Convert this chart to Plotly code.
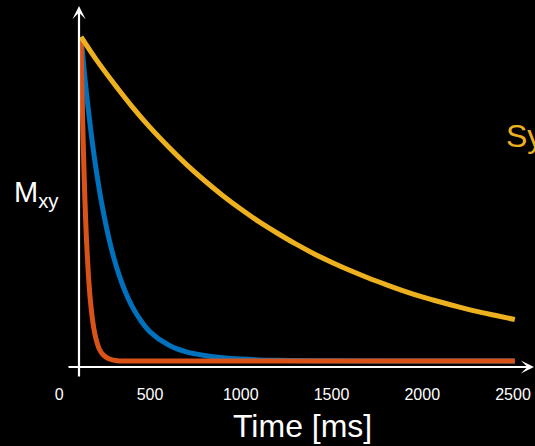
import plotly.graph_objects as go

# Decay curves (time in ms on the labelled axis,
# normalised transverse magnetisation)
t_orange = [120, 125, 130, 135, 140, 145, 150, 160, 170, 180, 190, 200, 220, 240,
            270, 320, 420, 2510]
m_orange = [1.000, 0.850, 0.722, 0.613, 0.521, 0.443, 0.376, 0.272, 0.196, 0.142,
            0.102, 0.074, 0.038, 0.020, 0.008, 0.001, 0.000, 0.000]

t_blue = [120, 140, 160, 180, 200, 220, 240, 270, 300, 330, 360, 400, 450, 500,
          600, 700, 800, 900, 1000, 1200, 1500, 2000, 2510]
m_blue = [1.000, 0.881, 0.776, 0.684, 0.603, 0.531, 0.468, 0.387, 0.320, 0.265,
          0.219, 0.170, 0.124, 0.090, 0.050, 0.028, 0.017, 0.010, 0.006, 0.002,
          0.001, 0.000, 0.000]

t_yellow = [120, 200, 300, 400, 500, 600, 700, 800, 900, 1000, 1100, 1200, 1300,
            1400, 1500, 1600, 1700, 1800, 1900, 2000, 2100, 2200, 2300, 2400, 2510]
m_yellow = [1.000, 0.933, 0.857, 0.786, 0.721, 0.662, 0.607, 0.557, 0.511, 0.469,
            0.430, 0.395, 0.362, 0.332, 0.305, 0.280, 0.257, 0.236, 0.216, 0.198,
            0.182, 0.167, 0.153, 0.141, 0.128]

tick_vals = [0, 500, 1000, 1500, 2000, 2500]
tick_text = ["0", "500", "1000", "1500", "2000", "2500"]

x_title = "Time [ms]"
y_title = "M<sub>xy</sub>"
curve_label = "Synovial fluid"

BLUE = "#0072BD"
ORANGE = "#D95319"
YELLOW = "#EDB120"
FONT = "Arial, Liberation Sans, sans-serif"

fig = go.Figure()
for t, m, c in [(t_blue, m_blue, BLUE), (t_orange, m_orange, ORANGE), (t_yellow, m_yellow, YELLOW)]:
    fig.add_trace(go.Scatter(x=t, y=m, mode="lines",
                             line=dict(color=c, width=5, shape="spline", smoothing=0.8),
                             showlegend=False, hoverinfo="skip", cliponaxis=False))

W, H = 535, 446
L, R, T, B = 55, 5, 0, 78.5
pw, ph = W - L - R, H - T - B

def px(xp):
    return (xp - L) / pw

def py(yp):
    return (H - B - yp) / ph

fig.update_layout(
    width=W, height=H,
    margin=dict(l=L, r=R, t=T, b=B, pad=0),
    paper_bgcolor="black", plot_bgcolor="black",
    font=dict(family=FONT, color="white"),
    xaxis=dict(range=[-23.4, 2593.7], showgrid=False, zeroline=False, showline=False,
               tickmode="array", tickvals=tick_vals, ticktext=tick_text,
               ticks="outside", ticklen=13, tickcolor="black",
               tickfont=dict(size=16, color="white", family=FONT)),
    yaxis=dict(range=[-0.0185, 1.114], showgrid=False, zeroline=False, showline=False,
               showticklabels=False, ticks=""),
)

# axes drawn as arrows
fig.add_annotation(xref="paper", yref="paper", x=px(536), y=py(367.5), ax=-469, ay=0,
                   showarrow=True, arrowhead=3, arrowsize=1, arrowwidth=2.2,
                   arrowcolor="white", text="")
fig.add_annotation(xref="paper", yref="paper", x=px(79), y=py(6), ax=0, ay=372,
                   showarrow=True, arrowhead=3, arrowsize=1, arrowwidth=2.2,
                   arrowcolor="white", text="")

fig.add_annotation(xref="paper", yref="paper", x=px(302), y=py(427), text=x_title,
                   showarrow=False, xanchor="center", yanchor="middle",
                   font=dict(size=32, color="white", family=FONT))
fig.add_annotation(xref="paper", yref="paper", x=px(12), y=py(194), text=y_title,
                   showarrow=False, xanchor="left", yanchor="middle",
                   font=dict(size=29, color="white", family=FONT))
fig.add_annotation(xref="paper", yref="paper", x=px(504), y=py(136), text=curve_label,
                   showarrow=False, xanchor="left", yanchor="middle",
                   font=dict(size=32, color=YELLOW, family=FONT))

fig.write_html("out.html", config={"displayModeBar": False},
               post_script="document.body.style.margin='0';document.body.style.overflow='hidden';")
